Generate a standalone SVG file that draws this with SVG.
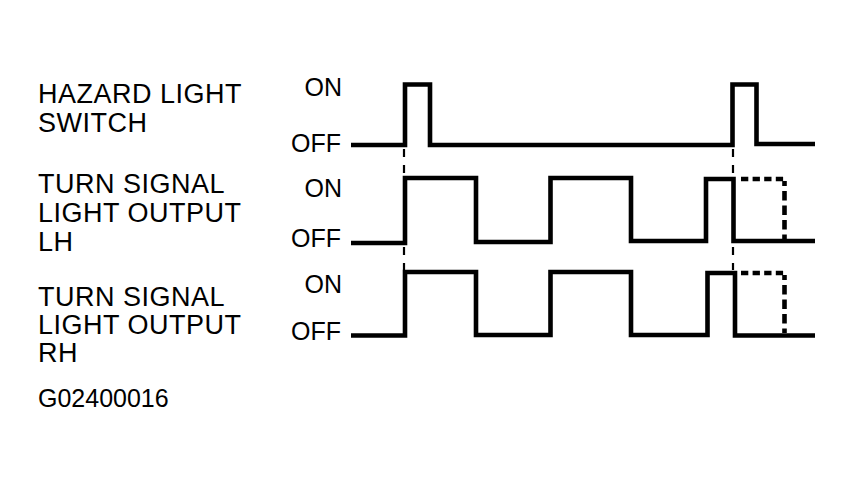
<svg xmlns="http://www.w3.org/2000/svg" width="852" height="482" viewBox="0 0 852 482">
<style>
.lbl{font-family:"Liberation Sans",Arial,sans-serif;font-size:27px;letter-spacing:0.5px;fill:#000}
.st{font-family:"Liberation Sans",Arial,sans-serif;font-size:25px;fill:#000;text-anchor:end}
.code{font-family:"Liberation Sans",Arial,sans-serif;font-size:25px;fill:#000}
.wave{fill:none;stroke:#000;stroke-width:4.6;stroke-linejoin:miter;stroke-linecap:butt}
.thin{fill:none;stroke:#000;stroke-width:2.2;stroke-dasharray:8 8}
.thick{fill:none;stroke:#000;stroke-width:4.6}
</style>
<rect width="852" height="482" fill="#fff"/>
<g id="hazard">
<text class="lbl" x="38" y="103">HAZARD LIGHT</text>
<text class="lbl" x="38" y="132">SWITCH</text>
<text class="st" x="342" y="96">ON</text>
<text class="st" x="341" y="152">OFF</text>
<path class="wave" d="M351,145 H405 V84.5 H430 V145 H732.5 V84.5 H756.5 V144 H815"/>
</g>
<g id="lh">
<text class="lbl" x="38" y="193">TURN SIGNAL</text>
<text class="lbl" x="38" y="222">LIGHT OUTPUT</text>
<text class="lbl" x="38" y="251">LH</text>
<text class="st" x="342" y="197">ON</text>
<text class="st" x="341" y="247">OFF</text>
<path class="wave" d="M351,243 H405 V178 H476 V242 H550.5 V178 H631 V241 H706 V179 H733.5 V241 H815"/>
<path class="thick" d="M736,179 H784.5" stroke-dasharray="0 5 7.3 4.3 7.3 4.3 7.3 4.3 7.3 4.3"/>
<path class="thick" d="M784.5,181 V241" stroke-dasharray="5 5 9.5 5 9.5 5 9.5 5 9.5 5"/>
</g>
<g id="rh">
<text class="lbl" x="38" y="306">TURN SIGNAL</text>
<text class="lbl" x="38" y="334">LIGHT OUTPUT</text>
<text class="lbl" x="38" y="362">RH</text>
<text class="st" x="342" y="293">ON</text>
<text class="st" x="341" y="340">OFF</text>
<path class="wave" d="M351,335.5 H405 V272 H476 V335 H550.5 V272 H631 V335 H707.5 V273 H735 V335.5 H815"/>
<path class="thick" d="M737,273 H784.5" stroke-dasharray="0 4 7.3 4.3 7.3 4.3 7.3 4.3 7.3 4.3"/>
<path class="thick" d="M784.5,275 V333" stroke-dasharray="5 5 9.5 5 9.5 5 9.5 5 9.5 5"/>
</g>
<g id="connectors">
<path class="thin" d="M404,149 V176 M404,247 V270"/>
<path class="thin" d="M733,149 V176 M733,247 V270"/>
</g>
<text class="code" x="38" y="407">G02400016</text>
</svg>
